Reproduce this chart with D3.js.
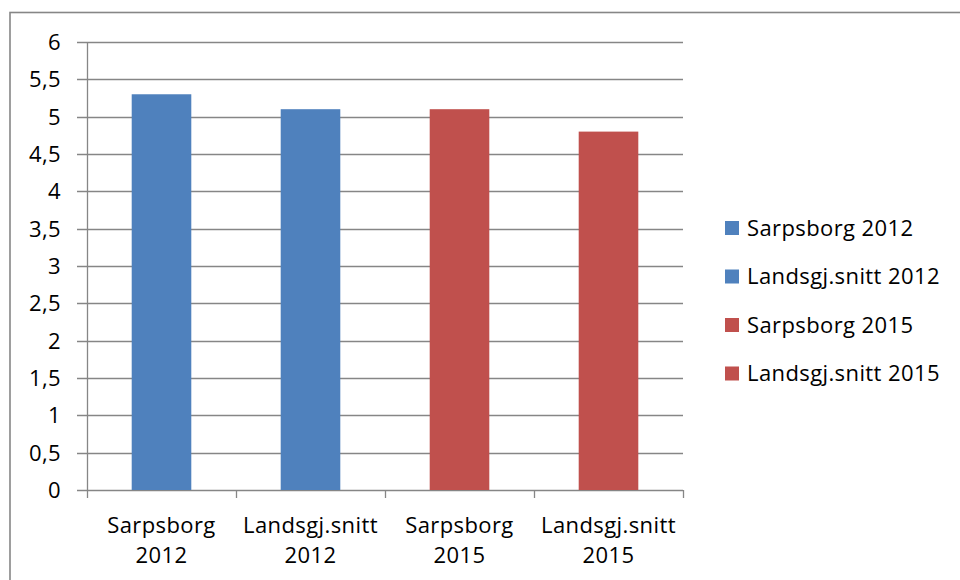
<!DOCTYPE html>
<html>
<head>
<meta charset="utf-8">
<script src="https://cdn.jsdelivr.net/npm/d3@7"></script>
<style>
  html, body { margin: 0; padding: 0; background: #fff; }
  svg { display: block; }
  text { font-family: "Open Sans", "Liberation Sans", sans-serif; fill: #000; }
</style>
</head>
<body>
<svg id="chart" width="960" height="580"></svg>
<script>
// Categories shown along the x axis (two lines each)
const categories = ["Sarpsborg 2012", "Landsgj.snitt 2012", "Sarpsborg 2015", "Landsgj.snitt 2015"];
const categoryLines = [["Sarpsborg", "2012"], ["Landsgj.snitt", "2012"], ["Sarpsborg", "2015"], ["Landsgj.snitt", "2015"]];
// One value per series
const values = [5.3, 5.1, 5.1, 4.8];
const seriesColors = ["#4F81BD", "#4F81BD", "#C0504D", "#C0504D"];
const yTicks = [0, 0.5, 1, 1.5, 2, 2.5, 3, 3.5, 4, 4.5, 5, 5.5, 6];

const svg = d3.select("#chart");
const gridColor = "#868686";
const fontSize = "22px";

// Outer chart frame
svg.append("rect")
  .attr("x", 10).attr("y", 12.5)
  .attr("width", 1000).attr("height", 1000)
  .attr("fill", "none")
  .attr("stroke", gridColor).attr("stroke-width", 1.6);

const plot = { left: 87, right: 683, top: 42, bottom: 490 };

const x = d3.scaleBand()
  .domain(categories)
  .range([plot.left, plot.right])
  .paddingInner(0.6).paddingOuter(0.3);

const y = d3.scaleLinear().domain([0, 6]).range([plot.bottom, plot.top]);

const fmt = v => String(v).replace(".", ",");

// Horizontal gridlines with left tick stubs
svg.append("g").selectAll("line")
  .data(yTicks)
  .join("line")
  .attr("x1", plot.left - 10).attr("x2", plot.right)
  .attr("y1", d => Math.round(y(d)) + 0.5).attr("y2", d => Math.round(y(d)) + 0.5)
  .attr("stroke", gridColor).attr("stroke-width", 1.3);

// Vertical axis line
svg.append("line")
  .attr("x1", plot.left + 0.5).attr("x2", plot.left + 0.5)
  .attr("y1", plot.top).attr("y2", plot.bottom)
  .attr("stroke", gridColor).attr("stroke-width", 1.3);

// Y labels
svg.append("g").selectAll("text")
  .data(yTicks)
  .join("text")
  .attr("x", 61)
  .attr("y", d => y(d))
  .attr("dy", "0.36em")
  .attr("text-anchor", "end")
  .style("font-size", fontSize)
  .style("letter-spacing", "0.4px")
  .text(fmt);

// Category boundary ticks below the x axis
const boundaries = d3.range(categories.length + 1).map(i => plot.left + i * (plot.right - plot.left) / categories.length);
svg.append("g").selectAll("line")
  .data(boundaries)
  .join("line")
  .attr("x1", d => Math.round(d) + 0.5).attr("x2", d => Math.round(d) + 0.5)
  .attr("y1", plot.bottom).attr("y2", plot.bottom + 8)
  .attr("stroke", gridColor).attr("stroke-width", 1.3);

// Bars
svg.append("g").selectAll("rect")
  .data(values)
  .join("rect")
  .attr("x", (d, i) => x(categories[i]))
  .attr("width", x.bandwidth())
  .attr("y", d => y(d))
  .attr("height", d => y(0) - y(d))
  .attr("fill", (d, i) => seriesColors[i]);

// Category labels
const catG = svg.append("g").selectAll("text")
  .data(categoryLines)
  .join("text")
  .attr("text-anchor", "middle")
  .style("font-size", fontSize)
  .style("letter-spacing", "0.4px")
  .attr("transform", (d, i) => `translate(${x(categories[i]) + x.bandwidth() / 2},0)`);
catG.selectAll("tspan")
  .data(d => d)
  .join("tspan")
  .attr("x", 0)
  .attr("y", (d, j) => 533 + j * 30)
  .text(d => d);

// Legend
const legend = svg.append("g").selectAll("g")
  .data(categories)
  .join("g")
  .attr("transform", (d, i) => `translate(725,${228 + i * 48.5})`);
legend.append("rect")
  .attr("x", 0).attr("y", -7)
  .attr("width", 14).attr("height", 14)
  .attr("fill", (d, i) => seriesColors[i]);
legend.append("text")
  .attr("x", 22).attr("y", 0).attr("dy", "0.36em")
  .style("font-size", fontSize)
  .style("letter-spacing", "0.4px")
  .text(d => d);
</script>
</body>
</html>
